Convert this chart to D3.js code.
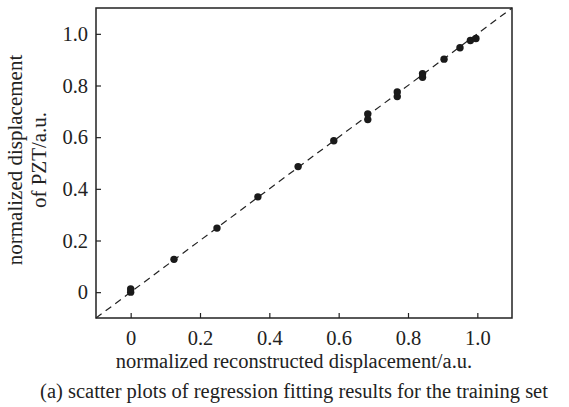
<!DOCTYPE html>
<html>
<head>
<meta charset="utf-8">
<script src="https://cdn.jsdelivr.net/npm/d3@7"></script>
<style>
  body { margin: 0; background: #fff; }
  svg { display: block; font-family: "Liberation Serif", "Times New Roman", serif; }
</style>
</head>
<body>
<svg width="569" height="407"></svg>
<script>
const width = 569;
const height = 407;

// data
const reconstructed = [0, 0, 0.125, 0.249, 0.367, 0.483, 0.586, 0.684, 0.684, 0.769, 0.769, 0.842, 0.842, 0.904, 0.95, 0.98, 0.996];
const measured = [0, 0.012, 0.127, 0.248, 0.369, 0.486, 0.586, 0.668, 0.69, 0.757, 0.775, 0.832, 0.846, 0.902, 0.946, 0.974, 0.982];
const tickValues = [0, 0.2, 0.4, 0.6, 0.8, 1.0];
const fitLine = [-0.1, 1.1];

const margin = {top: 8, right: 57, bottom: 89, left: 96};
const fontSize = 20.5;

const svg = d3.select("svg")
    .attr("viewBox", [0, 0, width, height]);

const x = d3.scaleLinear()
    .domain([-0.1, 1.1])
    .range([margin.left, width - margin.right]);

const y = d3.scaleLinear()
    .domain([-0.1, 1.1])
    .range([height - margin.bottom, margin.top]);

const fmt = d => d === 0 ? "0" : d3.format(".1f")(d);

// axes with inward ticks
svg.append("g")
    .attr("transform", `translate(0,${height - margin.bottom})`)
    .call(d3.axisBottom(x).tickValues(tickValues).tickFormat(fmt).tickSizeInner(-5).tickSizeOuter(0).tickPadding(12))
    .call(g => g.select(".domain").remove())
    .call(g => g.selectAll("line").attr("stroke", "#222").attr("stroke-width", 1.2))
    .call(g => g.selectAll("text").attr("font-size", fontSize).attr("font-family", "Liberation Serif").attr("fill", "#222"));

svg.append("g")
    .attr("transform", `translate(${margin.left},0)`)
    .call(d3.axisLeft(y).tickValues(tickValues).tickFormat(fmt).tickSizeInner(-5).tickSizeOuter(0).tickPadding(8))
    .call(g => g.select(".domain").remove())
    .call(g => g.selectAll("line").attr("stroke", "#222").attr("stroke-width", 1.2))
    .call(g => g.selectAll("text").attr("font-size", fontSize).attr("font-family", "Liberation Serif").attr("fill", "#222"));

// frame
svg.append("rect")
    .attr("x", margin.left)
    .attr("y", margin.top)
    .attr("width", width - margin.left - margin.right)
    .attr("height", height - margin.top - margin.bottom)
    .attr("fill", "none")
    .attr("stroke", "#222")
    .attr("stroke-width", 1.5);

// y = x reference line
svg.append("line")
    .attr("x1", x(fitLine[0]))
    .attr("y1", y(fitLine[0]))
    .attr("x2", x(fitLine[1]))
    .attr("y2", y(fitLine[1]))
    .attr("stroke", "#222")
    .attr("stroke-width", 1.2)
    .attr("stroke-dasharray", "7,5");

svg.append("g")
    .selectAll("circle")
    .data(reconstructed)
    .join("circle")
    .attr("cx", d => x(d))
    .attr("cy", (d, i) => y(measured[i]))
    .attr("r", 3.7)
    .attr("fill", "#1a1a1a");

// labels
svg.append("text")
    .attr("x", 294)
    .attr("y", 368)
    .attr("text-anchor", "middle")
    .attr("font-size", fontSize)
    .attr("fill", "#222")
    .text("normalized reconstructed displacement/a.u.");

const yl = svg.append("text")
    .attr("transform", `translate(22,160) rotate(-90)`)
    .attr("text-anchor", "middle")
    .attr("font-size", 21)
    .attr("fill", "#222");
yl.append("tspan").attr("x", 0).attr("y", 0).text("normalized displacement");
yl.append("tspan").attr("x", 0).attr("y", 24).text("of PZT/a.u.");

svg.append("text")
    .attr("x", 294)
    .attr("y", 398)
    .attr("text-anchor", "middle")
    .attr("font-size", fontSize)
    .attr("fill", "#222")
    .text("(a) scatter plots of regression fitting results for the training set");
</script>
</body>
</html>
